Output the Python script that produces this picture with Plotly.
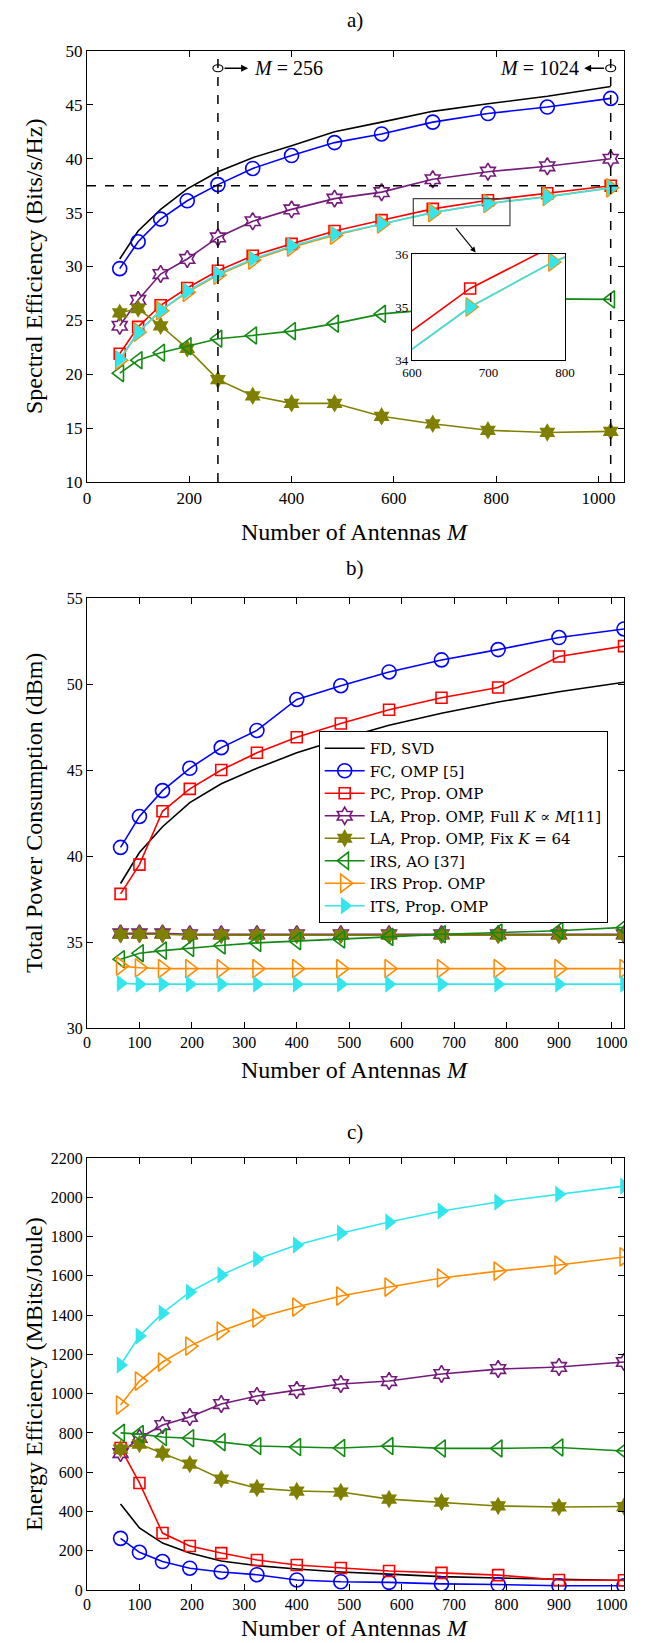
import plotly.graph_objects as go

# ---------------- data ----------------
M = [64, 100, 144, 196, 256, 324, 400, 484, 576, 676, 784, 900, 1024]

names = ["FD, SVD", "FC, OMP [5]", "PC, Prop. OMP",
         "LA, Prop. OMP, Full <i>K</i> ∝ <i>M</i>[11]",
         "LA, Prop. OMP, Fix <i>K</i> = 64",
         "IRS, AO [37]", "IRS Prop. OMP", "ITS, Prop. OMP"]

# a) spectral efficiency (Bits/s/Hz)
se_fd      = [30.7, 33.3, 35.3, 37.2, 38.8, 40.1, 41.2, 42.5, 43.4, 44.4, 45.1, 45.8, 46.7]
se_fc      = [29.8, 32.3, 34.4, 36.1, 37.6, 39.1, 40.3, 41.5, 42.3, 43.4, 44.2, 44.8, 45.6]
se_pc      = [21.9, 24.4, 26.4, 28.0, 29.6, 31.0, 32.1, 33.3, 34.3, 35.35, 36.15, 36.8, 37.5]
se_la_full = [24.5, 26.9, 29.3, 30.7, 32.7, 34.2, 35.3, 36.3, 36.9, 38.1, 38.8, 39.3, 40.0]
se_la_fix  = [25.7, 26.1, 24.5, 22.4, 19.5, 18.0, 17.3, 17.3, 16.1, 15.4, 14.8, 14.6, 14.7]
se_irs_ao  = [20.1, 21.3, 22.0, 22.6, 23.3, 23.6, 24.0, 24.7, 25.6, 26.0, 26.6, 27.0, 26.95]
se_irs     = [21.3, 23.9, 25.9, 27.6, 29.2, 30.6, 31.8, 32.9, 33.95, 35.0, 35.85, 36.5, 37.3]
se_its     = [21.4, 23.9, 25.9, 27.7, 29.3, 30.7, 31.9, 33.0, 33.95, 35.0, 35.85, 36.45, 37.3]

# b) total power consumption (dBm)
p_fd      = [38.4, 40.2, 41.7, 43.1, 44.2, 45.1, 46.0, 46.8, 47.6, 48.3, 48.95, 49.55, 50.1]
p_fc      = [40.5, 42.3, 43.8, 45.1, 46.3, 47.3, 49.1, 49.9, 50.7, 51.4, 52.0, 52.7, 53.2]
p_pc      = [37.8, 39.5, 42.6, 43.9, 45.0, 46.0, 46.9, 47.7, 48.5, 49.2, 49.8, 51.6, 52.2]
p_la_full = [35.5, 35.5, 35.5, 35.45, 35.45, 35.45, 35.45, 35.45, 35.45, 35.45, 35.45, 35.45, 35.45]
p_la_fix  = [35.45, 35.45, 35.45, 35.4, 35.4, 35.4, 35.4, 35.4, 35.4, 35.4, 35.4, 35.4, 35.4]
p_irs_ao  = [34.0, 34.35, 34.5, 34.65, 34.8, 34.95, 35.05, 35.15, 35.3, 35.45, 35.55, 35.65, 35.85]
p_irs     = [33.6, 33.5, 33.45, 33.45, 33.45, 33.45, 33.45, 33.45, 33.45, 33.45, 33.45, 33.45, 33.45]
p_its     = [32.6, 32.55, 32.55, 32.55, 32.55, 32.55, 32.55, 32.55, 32.55, 32.55, 32.55, 32.55, 32.55]

# c) energy efficiency (MBits/Joule)
ee_fd      = [438, 316, 239, 188, 148, 124, 107, 92, 81, 68, 61, 55, 48]
ee_fc      = [263, 192, 145, 111, 92, 78, 51, 42, 39, 31, 28, 22, 22]
ee_pc      = [723, 545, 290, 224, 188, 153, 127, 112, 97, 87, 76, 51, 50]
ee_la_full = [697, 774, 840, 881, 947, 988, 1018, 1049, 1064, 1100, 1125, 1136, 1161]
ee_la_fix  = [718, 743, 697, 641, 565, 519, 504, 499, 463, 448, 428, 423, 425]
ee_irs_ao  = [800, 794, 779, 773, 753, 733, 728, 723, 733, 721, 721, 726, 708]
ee_irs     = [942, 1064, 1161, 1242, 1319, 1385, 1441, 1497, 1543, 1589, 1624, 1655, 1696]
ee_its     = [1146, 1293, 1410, 1517, 1604, 1685, 1757, 1817, 1874, 1930, 1976, 2016, 2057]

M_marks = [256, 1024]
se_threshold = 37.5
inset_x = [600, 800]
inset_y = [34, 36]
zoom_box_x = [638, 827]
zoom_box_y = [33.8, 36.3]

# ---------------- styles ----------------
FONT = "Liberation Serif"
colors = ["black", "#0000FF", "#FF0000", "#741A7A", "#808000", "#138A13", "#FF8C00", "#33E6EE"]
symbols = [None, "circle-open", "square-open", "hexagram-open", "hexagram",
           "triangle-left-open", "triangle-right-open", "triangle-right"]
sizes = [0, 14, 11, 13, 14, 15, 16, 15]

fig = go.Figure()

def add_series(ys, xa, ya, legend):
    for i, y in enumerate(ys):
        mk = dict(color=colors[i], size=sizes[i])
        if symbols[i] is not None:
            mk["symbol"] = symbols[i]
            if symbols[i].endswith("open"):
                mk["line"] = dict(color=colors[i], width=1.6)
            else:
                mk["line"] = dict(color=colors[i], width=0)
        mode = "lines" if symbols[i] is None else "lines+markers"
        fig.add_trace(go.Scatter(x=M, y=y, mode=mode, name=names[i],
                                 line=dict(color=colors[i], width=1.6),
                                 marker=mk, xaxis=xa, yaxis=ya,
                                 showlegend=legend))

add_series([se_fd, se_fc, se_pc, se_la_full, se_la_fix, se_irs_ao, se_irs, se_its], "x", "y", False)
add_series([p_fd, p_fc, p_pc, p_la_full, p_la_fix, p_irs_ao, p_irs, p_its], "x2", "y2", True)
add_series([ee_fd, ee_fc, ee_pc, ee_la_full, ee_la_fix, ee_irs_ao, ee_irs, ee_its], "x3", "y3", False)

# inset traces (PC, IRS prop, ITS)
for i, y in [(2, se_pc), (6, se_irs), (7, se_its)]:
    mk = dict(color=colors[i], size=sizes[i], symbol=symbols[i])
    if symbols[i].endswith("open"):
        mk["line"] = dict(color=colors[i], width=1.6)
    fig.add_trace(go.Scatter(x=M, y=y, mode="lines+markers", line=dict(color=colors[i], width=1.6),
                             marker=mk, xaxis="x4", yaxis="y4", showlegend=False))

# ---------------- layout ----------------
OFF = 8                      # page body margin
L, R, T, B = 87, 634, 51, 1590   # plot area in page pixels
W, H = R - L, B - T
FW, FH = 646 - OFF, 1643 - OFF
def px(xp): return (xp - L) / W
def py(yp): return (B - yp) / H

dom_a = [py(482), 1.0]
dom_b = [py(1028), py(598)]
dom_c = [0.0, py(1158)]

axcommon = dict(showline=True, linecolor="black", linewidth=1.2, mirror="ticks",
                ticks="inside", ticklen=6, tickcolor="black", showgrid=False, zeroline=False)

fig.update_layout(
    width=FW, height=FH,
    margin=dict(l=L - OFF, r=FW - (R - OFF), t=T - OFF, b=FH - (B - OFF)),
    paper_bgcolor="white", plot_bgcolor="white",
    font=dict(family=FONT, color="black"),
    xaxis=dict(axcommon, domain=[0, 1], anchor="y", range=[0, 1050], dtick=200,
               tickfont=dict(size=17, family=FONT)),
    yaxis=dict(axcommon, domain=dom_a, anchor="x", range=[10, 50], dtick=5,
               tickfont=dict(size=17, family=FONT)),
    xaxis2=dict(axcommon, domain=[0, 1], anchor="y2", range=[0, 1024], dtick=100,
                tickfont=dict(size=16, family=FONT)),
    yaxis2=dict(axcommon, domain=dom_b, anchor="x2", range=[30, 55], dtick=5,
                tickfont=dict(size=16, family=FONT)),
    xaxis3=dict(axcommon, domain=[0, 1], anchor="y3", range=[0, 1024], dtick=100,
                tickfont=dict(size=16, family=FONT)),
    yaxis3=dict(axcommon, domain=dom_c, anchor="x3", range=[0, 2200], dtick=200,
                tickfont=dict(size=16, family=FONT)),
    xaxis4=dict(showline=True, linecolor="black", linewidth=1.2, mirror=True, ticks="",
                showgrid=False, zeroline=False, domain=[px(418), px(574)], anchor="y4",
                range=inset_x, dtick=100, tickfont=dict(size=13, family=FONT)),
    yaxis4=dict(showline=True, linecolor="black", linewidth=1.2, mirror=True, ticks="",
                showgrid=False, zeroline=False, domain=[py(360), py(254)], anchor="x4",
                range=inset_y, dtick=1, tickfont=dict(size=13, family=FONT)),
    legend=dict(x=px(323), y=py(731), xanchor="left", yanchor="top",
                bgcolor="white", bordercolor="black", borderwidth=1,
                font=dict(size=15, family="DejaVu Serif"), tracegroupgap=0, itemwidth=40),
)

shapes = []
for m in M_marks:
    shapes.append(dict(type="line", xref="x", yref="y", x0=m, x1=m, y0=10, y1=50,
                       line=dict(color="black", width=1.5, dash="dash")))
shapes.append(dict(type="line", xref="x", yref="y", x0=0, x1=1050, y0=se_threshold, y1=se_threshold,
                   line=dict(color="black", width=1.5, dash="dash")))
for m in M_marks:
    shapes.append(dict(type="circle", xref="x", yref="y", xsizemode="pixel", ysizemode="pixel",
                       xanchor=m, yanchor=48.4, x0=-5, x1=5, y0=-3.5, y1=3.5,
                       line=dict(color="black", width=1.2)))
shapes.append(dict(type="rect", xref="x", yref="y", x0=zoom_box_x[0], x1=zoom_box_x[1],
                   y0=zoom_box_y[0], y1=zoom_box_y[1], line=dict(color="#444444", width=1.2)))
shapes.append(dict(type="rect", xref="x4", yref="y4", x0=inset_x[0], x1=inset_x[1],
                   y0=inset_y[0], y1=inset_y[1], fillcolor="white", line=dict(width=0), layer="below"))
fig.update_layout(shapes=shapes)

ann = []
ttl = dict(size=24, family=FONT)
def pann(text, xp, yp, **kw):
    d = dict(text=text, xref="paper", yref="paper", x=px(xp), y=py(yp),
             xanchor="center", yanchor="middle", showarrow=False, font=ttl)
    d.update(kw)
    ann.append(d)

pann("Spectral Efficiency (Bits/s/Hz)", 33, 266, textangle=-90)
pann("Total Power Consumption (dBm)", 33, 813, textangle=-90)
pann("Energy Efficiency (MBits/Joule)", 33, 1374, textangle=-90)
for yy in [532, 1070, 1628]:
    pann("Number of Antennas <i>M</i>", 360, yy)
for lab, yy in [("a)", 20), ("b)", 568), ("c)", 1132)]:
    pann(lab, 360, yy, font=dict(size=21, family=FONT))

ann.append(dict(text="<i>M</i> = 256", xref="x", yref="y", x=323, y=48.4, xanchor="left",
                yanchor="middle", showarrow=False, font=dict(size=20, family=FONT)))
ann.append(dict(text="", xref="x", yref="y", x=315, y=48.4, ax=266, ay=48.4, axref="x", ayref="y",
                showarrow=True, arrowhead=2, arrowsize=1, arrowwidth=1.4, arrowcolor="black"))
ann.append(dict(text="<i>M</i> = 1024", xref="x", yref="y", x=965, y=48.4, xanchor="right",
                yanchor="middle", showarrow=False, font=dict(size=20, family=FONT)))
ann.append(dict(text="", xref="x", yref="y", x=972, y=48.4, ax=1014, ay=48.4, axref="x", ayref="y",
                showarrow=True, arrowhead=2, arrowsize=1, arrowwidth=1.4, arrowcolor="black"))
ann.append(dict(text="", xref="x", yref="y", x=760, y=31.3, ax=719, ay=33.7, axref="x", ayref="y",
                showarrow=True, arrowhead=2, arrowsize=1, arrowwidth=1.1, arrowcolor="black"))
fig.update_layout(annotations=ann)

fig.write_html("out.html")
